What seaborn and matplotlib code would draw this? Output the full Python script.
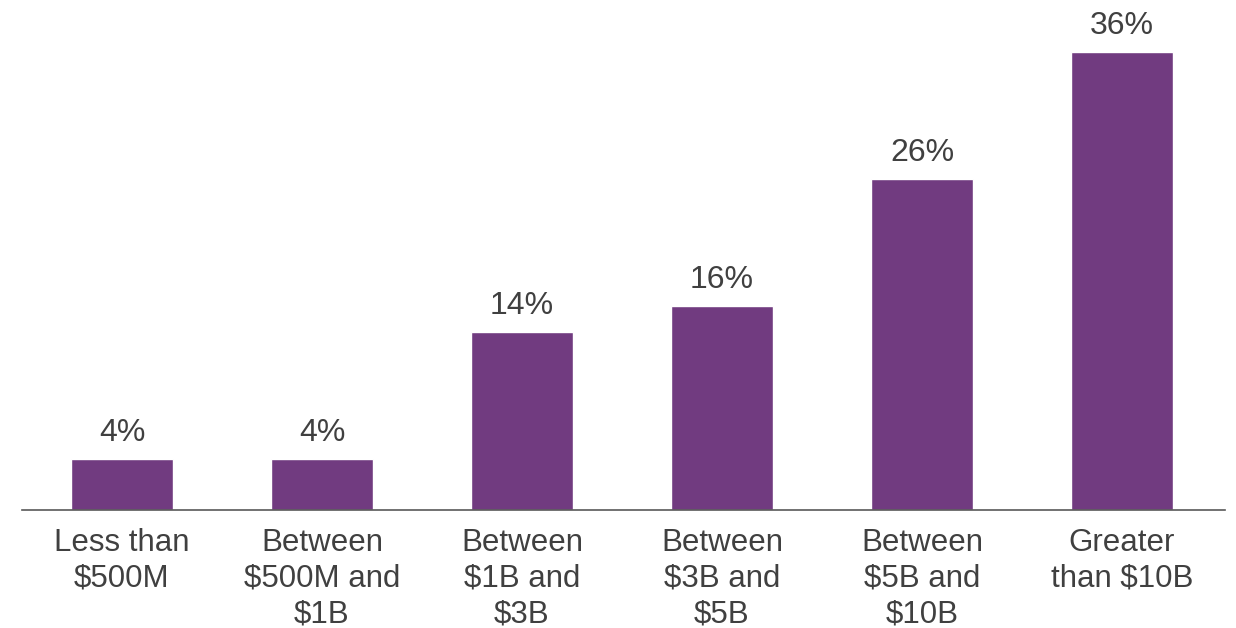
import matplotlib
matplotlib.use("Agg")
import numpy as np
import pandas as pd
import seaborn as sns
import matplotlib.pyplot as plt

# chart data
categories = ["Less than\n$500M", "Between\n$500M and\n$1B", "Between\n$1B and\n$3B",
              "Between\n$3B and\n$5B", "Between\n$5B and\n$10B", "Greater\nthan $10B"]
shares = [4, 4, 14, 16, 26, 36]

df = pd.DataFrame({"category": categories, "share": shares})

sns.set_style("white")
plt.rcParams["font.family"] = ["Liberation Sans", "DejaVu Sans"]

fig = plt.figure(figsize=(12.36, 6.28), dpi=100)
ax = fig.add_axes([22 / 1236, 118 / 628, 1203 / 1236, 508.8 / 628])

sns.barplot(data=df, x="category", y="share", color="#713B80", saturation=1,
            width=0.51, ax=ax)

ax.set_ylim(0, 40)
ax.set_xlim(-0.5, 5.515)
ax.bar_label(ax.containers[0], labels=[f"{v}%" for v in shares], padding=8,
             fontsize=23, color="#404040")

sns.despine(ax=ax, left=True)
ax.spines["bottom"].set_color("#595959")
ax.spines["bottom"].set_linewidth(1.2)
ax.set_yticks([])
ax.set_xlabel("")
ax.set_ylabel("")
ax.tick_params(axis="x", length=0, pad=13, labelsize=22.5, labelcolor="#404040")
for t in ax.get_xticklabels():
    t.set_linespacing(1.25)

fig.savefig("out.png", dpi=100)
